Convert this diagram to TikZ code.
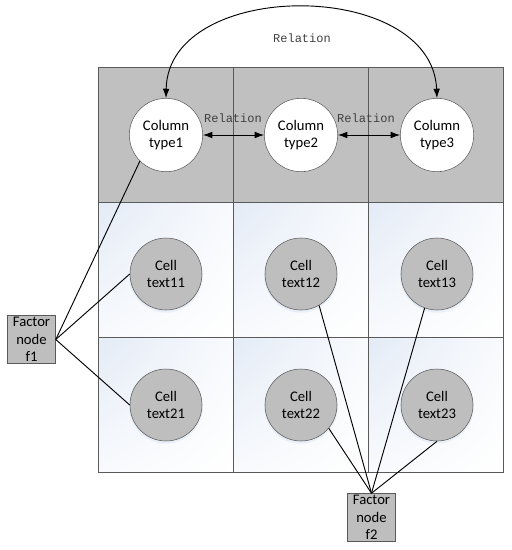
\documentclass[tikz,border=0pt]{standalone}
\usepackage{fontspec}
\setmainfont{Carlito}
\newfontfamily\relfont{Liberation Mono}
\usetikzlibrary{arrows.meta,shadings}
\definecolor{hdr}{RGB}{192,192,192}
\definecolor{cellgray}{RGB}{190,190,190}
\definecolor{gridline}{RGB}{90,90,90}
\definecolor{tintblue}{RGB}{228,235,246}
\definecolor{softblue}{RGB}{248,250,253}
\definecolor{shadowblue}{RGB}{205,220,240}
\begin{document}
\begin{tikzpicture}[x=0.75pt,y=-0.75pt,
  lbl/.style={font=\fontsize{11}{13}\selectfont, align=center},
  colnode/.style={lbl, circle, draw=gridline, fill=white, minimum size=55pt, inner sep=0pt},
  cellnode/.style={lbl, circle, draw=gridline, fill=cellgray, minimum size=54pt, inner sep=0pt},
  factor/.style={lbl, draw=gridline, fill=cellgray, minimum width=36pt, minimum height=36pt, inner sep=1pt},
  rel/.style={font=\relfont\fontsize{9}{10}\selectfont, text=black!75},
  conn/.style={draw=black, line width=0.7pt},
  tip/.tip={Latex[length=7pt,width=5pt]},
  dbl/.style={conn, tip-tip},
  cellbg/.style={upper left=tintblue, upper right=softblue, lower left=softblue, lower right=white}
]
\useasboundingbox (0,0) rectangle (511,550);
% header row
\fill[hdr] (98,67) rectangle (503,202);
% cell backgrounds
\foreach \xa/\xb in {98/233,233/368,368/503}{
  \foreach \ya/\yb in {202/337,337/472}{
    \shade[cellbg] (\xa,\ya) rectangle (\xb,\yb);
  }
}
\draw[gridline, line width=0.5pt] (98,67) rectangle (503,472);
\draw[gridline, line width=0.5pt] (233,67) -- (233,472) (368,67) -- (368,472) (98,202) -- (503,202) (98,337) -- (503,337);

% soft shadows of cells
\foreach \p in {(166,276),(301,276),(437,276),(166,407),(301,407),(437,407)}{
  \fill[shadowblue, opacity=0.35] \p circle (27.5pt);
}

% column nodes
\node[colnode] (t1) at (166,135) {Column\\type1};
\node[colnode] (t2) at (301,135) {Column\\type2};
\node[colnode] (t3) at (437,135) {Column\\type3};

% cell nodes
\node[cellnode] (c11) at (166,274) {Cell\\text11};
\node[cellnode] (c12) at (301,274) {Cell\\text12};
\node[cellnode] (c13) at (437,274) {Cell\\text13};
\node[cellnode] (c21) at (166,405) {Cell\\text21};
\node[cellnode] (c22) at (301,405) {Cell\\text22};
\node[cellnode] (c23) at (437,405) {Cell\\text23};

% factor nodes
\node[factor] (f1) at (31.5,339.5) {Factor\\node\\f1};
\node[factor] (f2) at (371.5,517.5) {Factor\\node\\f2};

% relations
\draw[dbl] (t1.east) -- (t2.west);
\draw[dbl] (t2.east) -- (t3.west);
\node[rel] (r1) at (233,118) {Relation};
\node[rel] (r2) at (366,118) {Relation};
\draw[dbl] (t1.north) .. controls (168,-22) and (432,-22) .. (t3.north);
\node[rel] (r3) at (302,38) {Relation};

% factor connections
\draw[conn] (f1.east) -- (t1.-135);
\draw[conn] (f1.east) -- (c11.west);
\draw[conn] (f1.east) -- (c21.west);
\draw[conn] (f2.north) -- (c12.-60);
\draw[conn] (f2.north) -- (c13.-110);
\draw[conn] (f2.north) -- (c22.-40);
\draw[conn] (f2.north) -- (c23.-90);
\end{tikzpicture}
\end{document}
